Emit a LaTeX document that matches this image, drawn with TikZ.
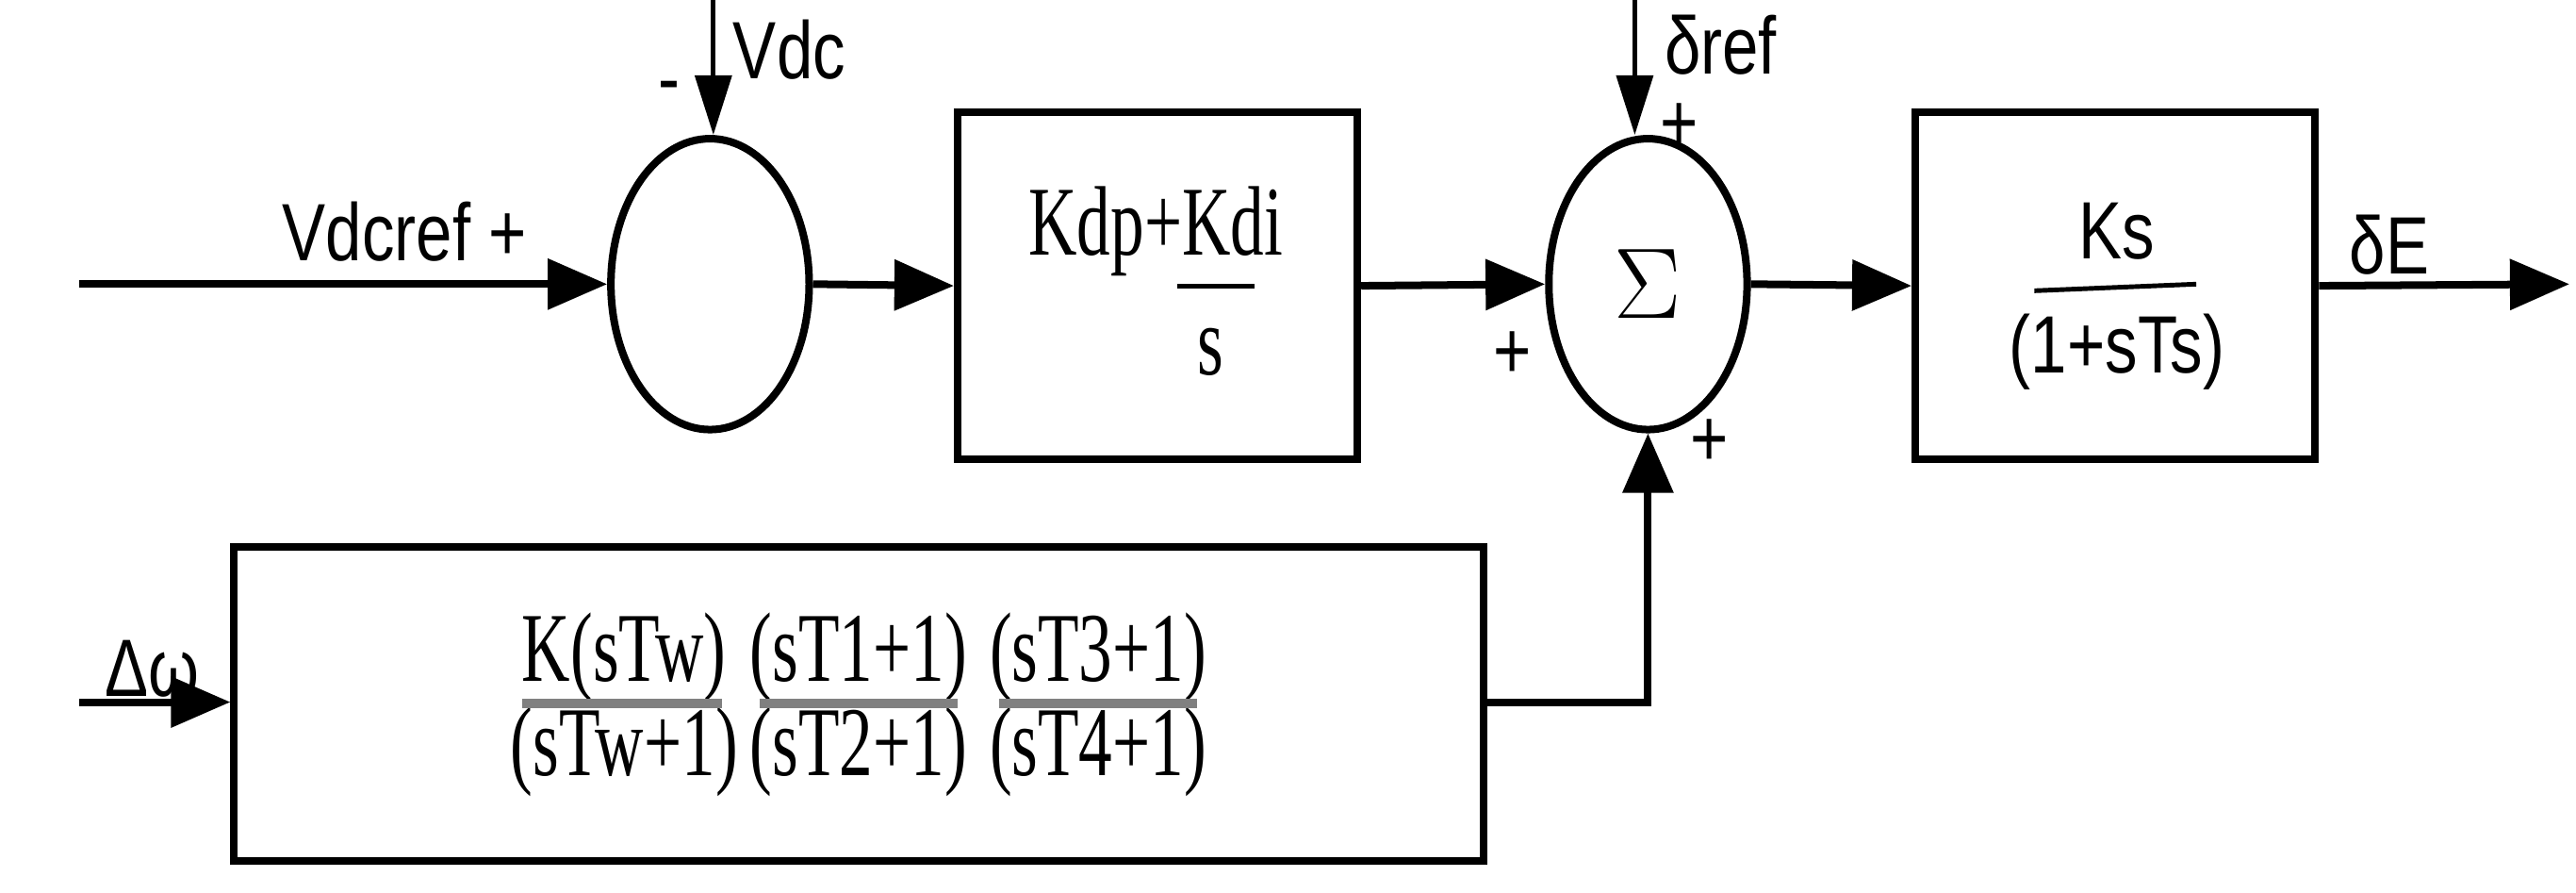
\documentclass[tikz,border=0pt]{standalone}
\usepackage{fontspec}
\setmainfont{Liberation Serif}
\newfontfamily\sansf{Liberation Sans}
\usetikzlibrary{arrows.meta,shapes.geometric}
\begin{document}
\begin{tikzpicture}[x=0.01cm,y=-0.01cm,
  ln/.style={line width=1.3pt},
  arr/.style={ln,-{Triangle[length=0.36cm,width=0.3cm]}},
  tarr/.style={line width=0.8pt,-{Triangle[length=0.36cm,width=0.22cm]}},
  blk/.style={draw,line width=1.3pt,rectangle,inner sep=0pt},
  sm/.style={ellipse,draw,line width=1.3pt,minimum width=1.2cm,minimum height=1.76cm,inner sep=0pt},
  st/.style={font=\sansf\fontsize{14}{16}\selectfont,xscale=0.8,inner sep=0pt},
  rt/.style={font=\fontsize{17}{19}\selectfont,xscale=0.68,inner sep=0pt}]
\useasboundingbox (0,0) rectangle (1560,540);
\coordinate (in1) at (48,172);
\node[sm] (c1) at (430,172) {};
\node[blk,minimum width=2.42cm,minimum height=2.1cm] (b1) at (701,173) {};
\node[sm] (c2) at (998,172) {};
\node[blk,minimum width=2.42cm,minimum height=2.1cm] (b2) at (1281,173) {};
\node[blk,minimum width=7.56cm,minimum height=1.9cm] (b3) at (520,426) {};
\coordinate (out) at (1556,172);
\coordinate (vdc) at (432,0);
\coordinate (dref) at (990,0);
\coordinate (dw) at (48,425);
\coordinate (corner) at (998,425);
\draw[arr] (in1) -- (c1.west);
\draw[arr] (c1.east) -- (b1.west);
\draw[arr] (b1.east) -- (c2.west);
\draw[arr] (c2.east) -- (b2.west);
\draw[arr] (b2.east) -- (out);
\draw[tarr] (vdc) -- (c1.north -| vdc);
\draw[tarr] (dref) -- (c2.north -| dref);
\draw[arr] (dw) -- (b3.west |- dw);
\draw[arr] (b3.east |- corner) -- (corner) -- (c2.south);
% labels
\node[st] (lvdc) at (478,30) {Vdc};
\node[st] (lmin) at (405,57) {-};
\node[st] (lvdcref) at (245,140) {Vdcref +};
\node[st] (ldref) at (1042,27) {δref};
\node[st] (lp1) at (1017,77) {+};
\node[st] (lp2) at (916,215) {+};
\node[st] (lp3) at (1035,268) {+};
\node[st] (lde) at (1447,148) {δE};
\node[st] (ldw) at (92,405) {Δω};
\node[font=\fontsize{17}{19}\selectfont] (sig) at (998,172) {$\Sigma$};
\node[rt] (kdp) at (700,140) {Kdp+Kdi};
\draw[line width=0.8pt] (713,173) -- (760,173);
\node[rt] (ks1) at (733,213) {s};
\node[st] (ks) at (1282,140) {Ks};
\draw[line width=0.8pt] (1232,176) -- (1330,172);
\node[st] (kts) at (1282,213) {(1+sTs)};
\node[rt] (f1a) at (378,398) {K(sTw)};
\node[rt] (f1b) at (378,455) {(sTw+1)};
\node[rt] (f2a) at (520,398) {(sT1+1)};
\node[rt] (f2b) at (520,455) {(sT2+1)};
\node[rt] (f3a) at (665,398) {(sT3+1)};
\node[rt] (f3b) at (665,455) {(sT4+1)};
\draw[gray,line width=1.6pt] (316,426) -- (437,426) (460,426) -- (580,426) (605,426) -- (725,426);
\end{tikzpicture}
\end{document}
